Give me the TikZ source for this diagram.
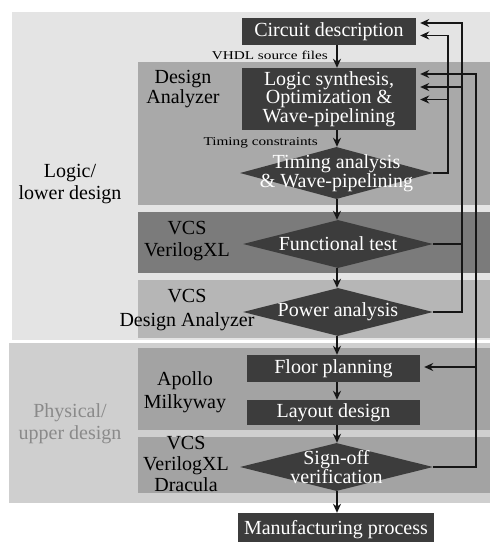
\documentclass[tikz,border=0pt]{standalone}
\usepackage{fontspec}
\usepackage{graphicx}
\setmainfont{Liberation Serif}
\newfontfamily\diaserif{Liberation Serif}
\usetikzlibrary{shapes.geometric,arrows.meta}
\definecolor{outerlight}{HTML}{E4E4E4}
\definecolor{physbg}{HTML}{CFCFCF}
\definecolor{daband}{HTML}{A9A9A9}
\definecolor{vcsband}{HTML}{7B7B7B}
\definecolor{pwband}{HTML}{B6B6B6}
\definecolor{apband}{HTML}{A3A3A3}
\definecolor{boxfill}{HTML}{3C3C3C}
\definecolor{linecol}{HTML}{161616}
\definecolor{graytext}{HTML}{8A8A8A}
\tikzset{
  mainfont/.style={font=\diaserif\fontsize{20}{18.5}\selectfont},
  stepbox/.style={rectangle, fill=boxfill, text=white, mainfont, inner sep=0pt, align=center},
  decision/.style={diamond, fill=boxfill, inner sep=0pt, aspect=3.9},
  dtext/.style={text=white, mainfont, inner sep=0pt, align=center},
  toollabel/.style={text=black, font=\diaserif\fontsize{20}{22}\selectfont, align=center, inner sep=0pt},
  smalllabel/.style={text=black, font=\diaserif\fontsize{12}{12}\selectfont, inner sep=0pt},
  flow/.style={draw=linecol, line width=1.8pt, -{Stealth[length=9pt,width=8pt]}},
  fb/.style={draw=linecol, line width=1.8pt},
  fbarrow/.style={draw=linecol, line width=1.8pt, -{Stealth[length=9pt,width=8pt]}, shorten >=4pt},
}
\begin{document}
\begin{tikzpicture}[x=1pt,y=-1pt]
\useasboundingbox (0,0) rectangle (492,542);
\fill[white] (0,0) rectangle (492,542);
% background regions
\fill[outerlight] (12,12) rectangle (490,340);
\fill[physbg] (9,343) rectangle (490,503);
\fill[daband] (138,62) rectangle (490,205);
\fill[vcsband] (138,212) rectangle (490,273);
\fill[pwband] (138,280) rectangle (490,338);
\fill[apband] (138,348) rectangle (490,430);
\fill[apband] (138,437) rectangle (490,493);

% labels
\node[toollabel] (lbllogic) at (70,184) {Logic/\\lower design};
\node[toollabel, text=graytext] (lblphys) at (70,424) {Physical/\\upper design};
\node[toollabel, font=\diaserif\fontsize{20}{18}\selectfont] (lblda) at (183,89) {Design\\Analyzer};
\node[toollabel, font=\diaserif\fontsize{20}{22.5}\selectfont] (lblvcs1) at (187,241) {VCS\\VerilogXL};
\node[toollabel, font=\diaserif\fontsize{20}{24}\selectfont] (lblvcs2) at (187,310) {VCS\\Design Analyzer};
\node[toollabel, font=\diaserif\fontsize{20}{23}\selectfont] (lblap) at (185,392) {Apollo\\Milkyway};
\node[toollabel, font=\diaserif\fontsize{20}{21}\selectfont] (lblvcs3) at (186,464) {VCS\\VerilogXL\\Dracula};

% flow nodes
\node[stepbox, minimum width=174pt, minimum height=27pt] (circ) at (329,31.5) {Circuit description};
\node[stepbox, minimum width=174pt, minimum height=62pt] (logic) at (329,99) {Logic synthesis,\\Optimization \&\\Wave-pipelining};
\node[decision, minimum width=193pt, minimum height=52pt] (timing) at (336.5,173) {};
\node[dtext] (timingtxt) at (timing.center) {Timing analysis\\\& Wave-pipelining};
\node[decision, minimum width=190pt, minimum height=48pt] (func) at (338,244) {};
\node[dtext] (functxt) at (func.center) {Functional test};
\node[decision, minimum width=190pt, minimum height=48pt] (power) at (338,312) {};
\node[dtext] (powertxt) at (power.center) {Power analysis};
\node[stepbox, minimum width=173pt, minimum height=27pt] (floor) at (333.5,368.5) {Floor planning};
\node[stepbox, minimum width=173pt, minimum height=25pt] (layout) at (333.5,412.5) {Layout design};
\node[decision, minimum width=193pt, minimum height=48pt] (signoff) at (336.5,467) {};
\node[dtext] (signofftxt) at (signoff.center) {Sign-off\\verification};
\node[stepbox, minimum width=196pt, minimum height=34pt] (manuf) at (336,530) {Manufacturing process};

% small labels
\node[smalllabel, anchor=east] (vhdl) at (328,55.5) {\scalebox{1.27}[1]{VHDL source files}};
\node[smalllabel, anchor=east] (tcons) at (318,142.5) {\scalebox{1.27}[1]{Timing constraints}};

% main flow
\coordinate (col) at (337,0);
\draw[flow] (circ.south -| col) -- (logic.north -| col);
\draw[flow] (logic.south -| col) -- (timing.north -| col);
\draw[flow] (timing.south -| col) -- (func.north -| col);
\draw[flow] (func.south -| col) -- (power.north -| col);
\draw[flow] (power.south -| col) -- (floor.north -| col);
\draw[flow] (floor.south -| col) -- (layout.north -| col);
\draw[flow] (layout.south -| col) -- (signoff.north -| col);
\draw[flow] (signoff.south -| col) -- (manuf.north -| col);

% feedback lines
\coordinate (xa) at (462,0);
\coordinate (xb) at (448,0);
\coordinate (xc) at (476,0);
\coordinate (cy1) at (0,23);
\coordinate (cy2) at (0,35.5);
\coordinate (ly1) at (0,74);
\coordinate (ly2) at (0,87);
\coordinate (ly3) at (0,99.5);
\coordinate (fy) at (0,367);

% line A: power / functional -> circuit (top) and logic (middle)
\draw[fbarrow] (power.east) -| (xa |- cy1) -- (circ.east |- cy1);
\draw[fb] (func.east) -- (func.east -| xa);
\draw[fbarrow] (xa |- ly2) -- (logic.east |- ly2);
% line B: timing -> circuit (lower) and logic (bottom)
\draw[fbarrow] (timing.east) -| (xb |- cy2) -- (circ.east |- cy2);
\draw[fbarrow] (xb |- ly3) -- (logic.east |- ly3);
% line C: sign-off -> logic (top) and floor planning
\draw[fbarrow] (signoff.east) -| (xc |- ly1) -- (logic.east |- ly1);
\draw[fbarrow] (xc |- fy) -- (floor.east |- fy);
\end{tikzpicture}
\end{document}
